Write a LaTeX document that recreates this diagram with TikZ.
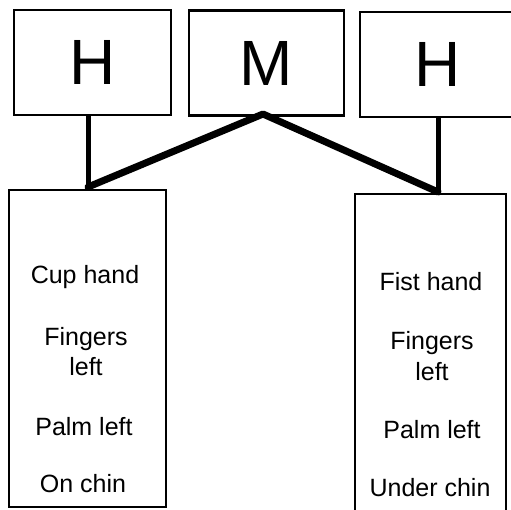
\documentclass[tikz,border=0pt]{standalone}
\usepackage{fontspec}
\setmainfont{Liberation Sans}
\begin{document}
\begin{tikzpicture}[x=1pt,y=-1pt,
  topbox/.style={draw,line width=2.2pt,minimum width=#1,minimum height=105pt,inner sep=0pt,font=\fontsize{64}{64}\selectfont},
  listbox/.style={draw,line width=2.2pt,inner sep=0pt},
  entry/.style={inner sep=0pt,font=\fontsize{25}{25}\selectfont},
  stem/.style={line width=5pt},
  branch/.style={line width=7pt,line cap=round,line join=round}]
\useasboundingbox (0,0) rectangle (511,509);
\clip (0,0) rectangle (511,509);
% upper row
\node[topbox=157pt] (h1) at (92.5,62.5) {H};
\node[topbox=155pt] (m) at (266.5,63) {M};
\node[topbox=156pt] (h2) at (438,64.5) {H};
% lower boxes
\node[listbox,minimum width=157pt,minimum height=317pt] (b1) at (87.5,348.5) {};
\node[listbox,minimum width=151pt,minimum height=336pt] (b2) at (430.5,362) {};
% joints
\coordinate (j1) at (88,187);
\coordinate (j2) at (438,192);
\coordinate (apex) at (263,114);
% connectors
\draw[stem] (h1.south -| j1) -- (j1 |- b1.north);
\draw[stem] (h2.south -| j2) -- (j2 |- b2.north);
\draw[branch] (j1) -- (apex) -- (j2);
% left list
\node[entry] (l1) at (85,277) {Cup hand};
\node[entry] (l2) at (86,339) {Fingers};
\node[entry] (l3) at (86,367) {left};
\node[entry] (l4) at (84,427) {Palm left};
\node[entry] (l5) at (83,484) {On chin};
% right list
\node[entry] (r1) at (431,282) {Fist hand};
\node[entry] (r2) at (432,343) {Fingers};
\node[entry] (r3) at (432,372) {left};
\node[entry] (r4) at (432,430) {Palm left};
\node[entry] (r5) at (430,488) {Under chin};
\end{tikzpicture}
\end{document}
